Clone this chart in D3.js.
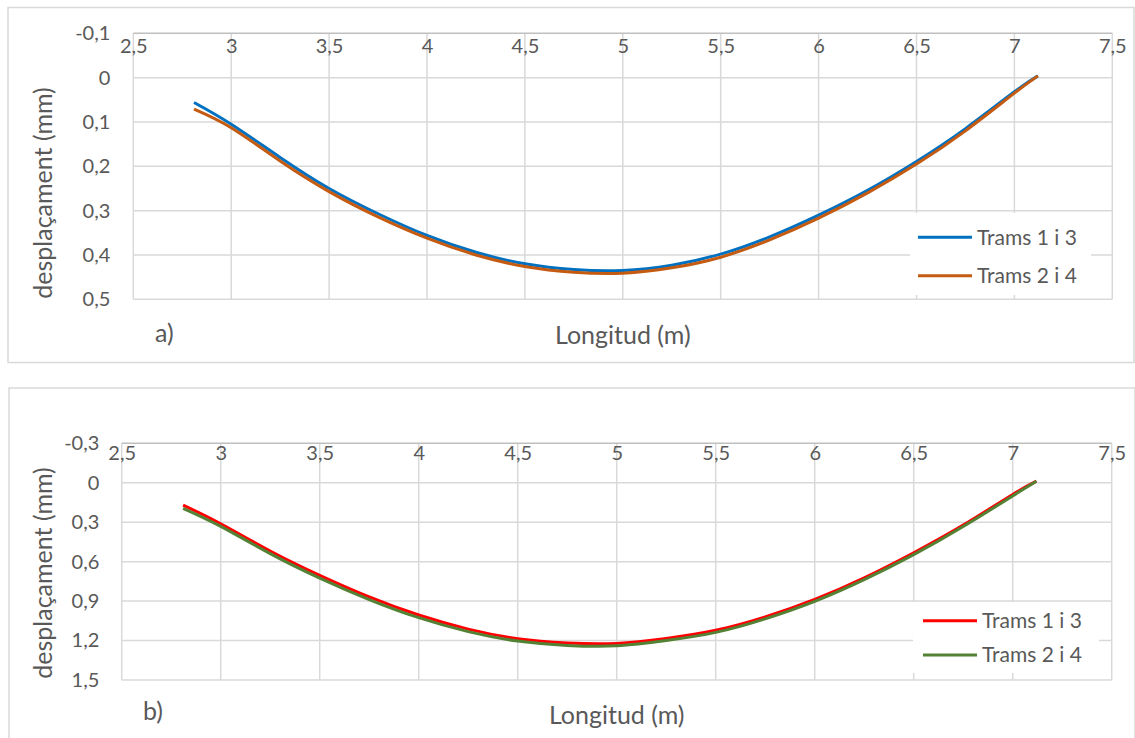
<!DOCTYPE html>
<html>
<head>
<meta charset="utf-8">
<script src="https://cdn.jsdelivr.net/npm/d3@7"></script>
<style>
  html, body { margin: 0; padding: 0; background: #fff; }
  svg { display: block; font-family: Lato, "Open Sans", sans-serif; }
</style>
</head>
<body>
<svg id="chart" width="1135" height="738"></svg>
<script>
// Tick values
const xTicks  = [2.5, 3, 3.5, 4, 4.5, 5, 5.5, 6, 6.5, 7, 7.5];
const yTicksA = [-0.1, 0, 0.1, 0.2, 0.3, 0.4, 0.5];
const yTicksB = [-0.3, 0, 0.3, 0.6, 0.9, 1.2, 1.5];

const seriesNames = ["Trams 1 i 3", "Trams 2 i 4"];

// Position along the span (m)
const longitud = [2.81, 3.00, 3.25, 3.50, 3.75, 4.00, 4.25, 4.50, 4.75, 5.00,
                  5.25, 5.50, 5.75, 6.00, 6.25, 6.50, 6.75, 7.00, 7.12];

// a) displacement (mm)
const despA13 = [0.056, 0.105, 0.180, 0.250, 0.307, 0.356, 0.394, 0.420, 0.433, 0.435,
                 0.423, 0.398, 0.359, 0.310, 0.254, 0.189, 0.115, 0.032, -0.004];
const despA24 = [0.071, 0.113, 0.188, 0.257, 0.314, 0.362, 0.400, 0.426, 0.439, 0.441,
                 0.429, 0.405, 0.366, 0.317, 0.260, 0.195, 0.120, 0.035, -0.004];

// b) displacement (mm)
const despB13 = [0.170, 0.312, 0.519, 0.704, 0.868, 1.006, 1.113, 1.186, 1.219, 1.222,
                 1.184, 1.122, 1.020, 0.887, 0.723, 0.532, 0.322, 0.089, -0.012];
const despB24 = [0.195, 0.332, 0.539, 0.725, 0.888, 1.026, 1.132, 1.204, 1.237, 1.240,
                 1.200, 1.138, 1.035, 0.902, 0.737, 0.547, 0.333, 0.100, -0.012];

const TEXT = "#595959";
const GRID = "#d9d9d9";
const AXIS = "#bfbfbf";

const fmt = d => String(d).replace(".", ",");

const svg = d3.select("#chart");
svg.append("rect").attr("width", 1135).attr("height", 738).attr("fill", "#fff");

function drawPanel(cfg) {
  const g = svg.append("g");

  // chart frame
  g.append("rect")
    .attr("x", cfg.frame[0]).attr("y", cfg.frame[1])
    .attr("width", cfg.frame[2]).attr("height", cfg.frame[3])
    .attr("fill", "#fff").attr("stroke", GRID).attr("stroke-width", 1.5);

  const x = d3.scaleLinear().domain([2.5, 7.5]).range([cfg.left, cfg.right]);
  const y = d3.scaleLinear().domain([cfg.yTicks[0], cfg.yTicks[cfg.yTicks.length - 1]])
              .range([cfg.top, cfg.bottom]);

  // gridlines
  g.append("g").selectAll("line").data(cfg.yTicks.slice(1)).join("line")
    .attr("x1", cfg.left).attr("x2", cfg.right)
    .attr("y1", d => y(d)).attr("y2", d => y(d))
    .attr("stroke", GRID).attr("stroke-width", 1.5);
  g.append("g").selectAll("line").data(xTicks).join("line")
    .attr("x1", d => x(d)).attr("x2", d => x(d))
    .attr("y1", cfg.top).attr("y2", cfg.bottom)
    .attr("stroke", GRID).attr("stroke-width", 1.5);

  // horizontal axis line (at the top, reversed value axis)
  g.append("line")
    .attr("x1", cfg.left).attr("x2", cfg.right)
    .attr("y1", cfg.top).attr("y2", cfg.top)
    .attr("stroke", AXIS).attr("stroke-width", 1.5);

  // x axis labels
  const xAxis = g.append("g")
    .attr("transform", `translate(0,${cfg.top})`)
    .call(d3.axisBottom(x).tickValues(xTicks).tickFormat(fmt).tickSize(0).tickPadding(cfg.xPad));
  xAxis.select(".domain").remove();
  xAxis.selectAll("text").attr("fill", TEXT).style("font-size", "20px").style("font-family", "Lato");

  // y axis labels
  const yAxis = g.append("g")
    .attr("transform", `translate(${cfg.left},0)`)
    .call(d3.axisLeft(y).tickValues(cfg.yTicks).tickFormat(fmt).tickSize(0).tickPadding(cfg.yPad));
  yAxis.select(".domain").remove();
  yAxis.selectAll("text").attr("fill", TEXT).style("font-size", "20px").style("font-family", "Lato");

  // series
  const line = d3.line()
    .x(d => x(d[0])).y(d => y(d[1]))
    .curve(d3.curveNatural);
  cfg.series.forEach((s, i) => {
    g.append("path")
      .datum(longitud.map((v, k) => [v, s[k]]))
      .attr("d", line)
      .attr("fill", "none")
      .attr("stroke", cfg.colors[i])
      .attr("stroke-width", 3)
      .attr("stroke-linejoin", "round");
  });

  // legend
  const lg = g.append("g");
  lg.append("rect")
    .attr("x", cfg.legend.x).attr("y", cfg.legend.y)
    .attr("width", cfg.legend.w).attr("height", cfg.legend.h)
    .attr("fill", "#fff");
  seriesNames.forEach((name, i) => {
    const ly = cfg.legend.row0 + i * cfg.legend.step;
    lg.append("line")
      .attr("x1", cfg.legend.x + cfg.legend.lineX0).attr("x2", cfg.legend.x + cfg.legend.lineX1)
      .attr("y1", ly).attr("y2", ly)
      .attr("stroke", cfg.colors[i]).attr("stroke-width", 3);
    lg.append("text")
      .attr("x", cfg.legend.x + cfg.legend.textX).attr("y", ly)
      .attr("dy", "0.35em")
      .attr("fill", TEXT).style("font-size", "21px")
      .text(name);
  });

  // axis titles
  g.append("text")
    .attr("transform", `translate(${cfg.yTitle[0]},${cfg.yTitle[1]}) rotate(-90)`)
    .attr("text-anchor", "middle").attr("dy", "0.35em")
    .attr("fill", TEXT).style("font-size", "25px")
    .text("desplaçament (mm)");
  g.append("text")
    .attr("x", (cfg.left + cfg.right) / 2).attr("y", cfg.xTitleY)
    .attr("text-anchor", "middle")
    .attr("fill", TEXT).style("font-size", "25px")
    .text("Longitud (m)");

  // panel tag
  g.append("text")
    .attr("x", cfg.tag[0]).attr("y", cfg.tag[1])
    .attr("fill", TEXT).style("font-size", "25px")
    .text(cfg.tagText);
}

drawPanel({
  frame: [8, 7.5, 1126, 355],
  left: 133.3, right: 1112.3, top: 33.3, bottom: 299.3,
  yTicks: yTicksA, xPad: 6, yPad: 23,
  series: [despA13, despA24],
  colors: ["#0070c0", "#c55a11"],
  legend: { x: 910, y: 213, w: 181, h: 82, row0: 237.3, step: 38.4, lineX0: 8, lineX1: 62, textX: 67 },
  yTitle: [43, 193],
  xTitleY: 344,
  tag: [155, 342], tagText: "a)"
});

drawPanel({
  frame: [9, 388, 1126, 360],
  left: 121.7, right: 1111.7, top: 443.3, bottom: 680,
  yTicks: yTicksB, xPad: 2, yPad: 22.4,
  series: [despB13, despB24],
  colors: ["#ff0000", "#548235"],
  legend: { x: 913, y: 602, w: 186, h: 71, row0: 620.7, step: 34.3, lineX0: 10, lineX1: 64, textX: 69 },
  yTitle: [43, 573],
  xTitleY: 724,
  tag: [143, 720], tagText: "b)"
});
</script>
</body>
</html>
